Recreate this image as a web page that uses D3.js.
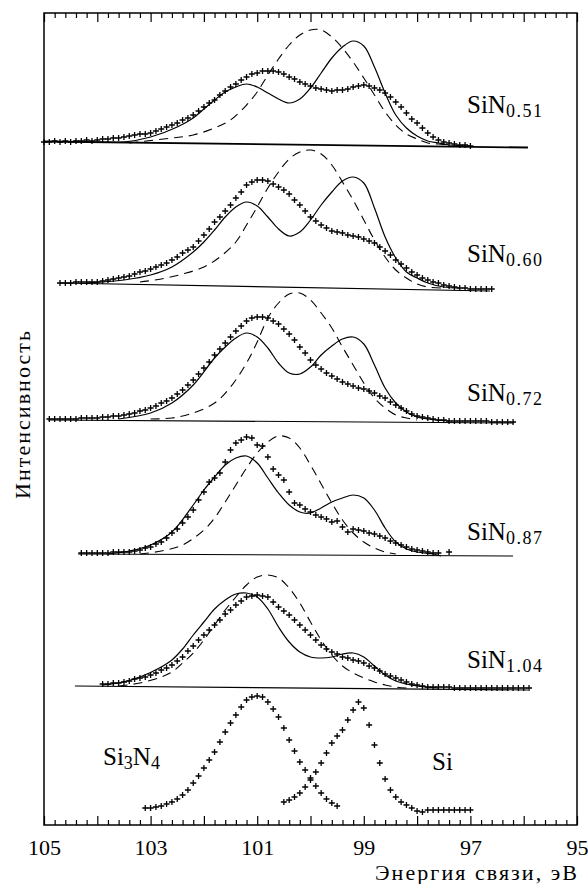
<!DOCTYPE html>
<html>
<head>
<meta charset="utf-8">
<script src="https://cdn.jsdelivr.net/npm/d3@7"></script>
<style>
  body { margin: 0; background: #fff; }
  svg { display: block; }
  svg text { font-family: 'Liberation Serif', 'DejaVu Serif', serif; }
</style>
</head>
<body>
<div class="canvas"></div>
<script>
// spectra: intensity values on a 0.1 eV grid, starting at the given energy
const step = 0.1;

const names = ['SiN', 'SiN', 'SiN', 'SiN', 'SiN'];
const subs = ['0.51', '0.60', '0.72', '0.87', '1.04'];
const starts = [105.0, 104.7, 104.9, 104.3, 103.9];

const data051 = [
  683,683,684,683,684,683,684,684,685,684,
  685,686,686,687,687,688,689,690,691,691,
  692,694,696,698,700,702,705,707,710,714,
  718,722,725,730,734,738,741,745,748,751,
  752,754,754,754,753,751,748,746,743,741,
  739,737,736,735,734,735,735,736,738,739,
  740,739,737,735,732,728,723,718,712,706,
  702,697,692,688,685,683,682,681,680,680,
  679];
const data060 = [
  542,542,542,543,543,543,543,543,544,545,
  546,547,548,549,551,553,554,556,558,560,
  562,565,568,572,575,578,584,590,596,603,
  608,614,620,627,633,640,643,645,645,644,
  641,638,635,631,625,620,614,608,604,600,
  597,594,593,592,590,589,588,586,584,582,
  578,574,570,565,561,557,553,550,547,545,
  543,542,540,539,538,537,537,536,536,536,
  536,536];
const data072 = [
  406,406,406,406,406,406,407,407,407,407,
  408,408,409,409,410,411,412,414,415,417,
  419,422,424,427,431,435,440,445,451,457,
  463,470,476,482,488,494,499,504,507,508,
  508,507,504,501,496,491,485,478,472,465,
  460,456,452,449,446,443,441,439,437,436,
  434,432,429,427,423,420,417,414,411,409,
  408,407,406,405,405,404,404,404,404,404,
  404,404,404,403,403,403,403,403];
const data087 = [
  272,272,272,272,272,272,273,273,273,273,
  274,275,277,278,281,283,287,292,296,302,
  308,315,325,333,343,347,352,363,375,382,
  385,388,387,380,379,368,356,350,345,333,
  322,320,316,313,310,308,306,303,304,298,
  293,296,295,294,292,291,289,287,284,282,
  280,278,276,275,274,273,272,272,null,273];
const data104 = [
  141,141,142,142,143,144,146,147,148,150,
  152,155,157,160,164,168,174,179,185,190,
  195,200,205,211,215,220,224,228,229,230,
  229,228,223,218,214,210,205,200,195,190,
  185,180,176,173,171,168,167,165,164,162,
  159,157,154,151,149,147,145,143,141,140,
  139,138,138,138,138,138,137,137,137,137,
  137,137,137,137,137,137,137,137,137,137,
  137];

// reference spectra (bottom)
const startSi3N4 = 103.1;
const dataSi3N4 = [
  17,17,18,19,21,23,26,30,35,42,
  49,57,65,73,83,93,102,110,118,125,
  128,129,128,123,116,108,97,85,74,63,
  55,47,39,32,26,22,19];
const startSi = 100.5;
const dataSi = [
  23,25,28,32,38,45,53,62,72,82,
  89,95,105,115,123,117,100,80,62,46,
  35,28,23,20,17,14,13,15,15,15,
  15,15,15,15,15,15];

// fitted sum of two components (solid) and single component (dashed), [eV, intensity]
const fit051 = [[104.0,683],[103.5,683],[103.0,688],[102.5,698],[102.2,707],[102.0,716],[101.8,725],[101.6,733],[101.4,738],[101.2,741],[101.0,738],[100.8,732],[100.6,726],[100.4,722],[100.2,726],[100.0,737],[99.8,752],[99.6,767],[99.4,778],[99.2,784],[99.0,779],[98.8,758],[98.6,732],[98.4,710],[98.2,697],[98.0,689],[97.8,684],[97.6,682],[97.4,680],[97.0,679]];
const one051 = [[103.4,682],[102.6,687],[102.2,690],[101.8,697],[101.5,705],[101.2,720],[101.0,733],[100.8,750],[100.6,766],[100.4,780],[100.2,790],[100.0,795],[99.8,795],[99.6,788],[99.4,777],[99.2,763],[99.0,747],[98.8,730],[98.6,713],[98.4,700],[98.2,691],[98.0,686],[97.8,682],[97.6,681],[97.4,680]];
const fit060 = [[104.2,542],[103.5,545],[103.0,550],[102.6,558],[102.2,573],[102.0,583],[101.8,595],[101.6,608],[101.4,618],[101.2,623],[101.0,619],[100.8,608],[100.6,596],[100.4,589],[100.2,593],[100.0,605],[99.8,620],[99.6,633],[99.4,644],[99.2,648],[99.0,642],[98.8,617],[98.6,588],[98.4,567],[98.2,553],[98.0,547],[97.8,542],[97.5,538],[97.2,537]];
const one060 = [[103.2,543],[102.8,546],[102.4,551],[102.0,558],[101.7,568],[101.4,583],[101.2,600],[101.0,618],[100.8,637],[100.6,653],[100.4,666],[100.2,673],[100.0,675],[99.8,671],[99.6,660],[99.4,643],[99.2,625],[99.0,605],[98.8,585],[98.6,568],[98.4,555],[98.2,547],[98.0,541],[97.8,538],[97.5,537]];
const fit072 = [[103.6,406],[103.0,412],[102.6,422],[102.2,440],[101.8,467],[101.6,478],[101.4,487],[101.2,492],[101.0,488],[100.8,477],[100.6,462],[100.4,452],[100.2,451],[100.0,458],[99.8,470],[99.6,479],[99.4,486],[99.2,488],[99.0,481],[98.8,460],[98.6,437],[98.4,422],[98.2,413],[98.0,408],[97.8,406],[97.4,404]];
const one072 = [[103.0,406],[102.6,407],[102.2,412],[101.8,422],[101.5,438],[101.2,462],[101.0,483],[100.8,507],[100.6,522],[100.4,531],[100.2,532],[100.0,525],[99.8,512],[99.6,497],[99.4,478],[99.2,460],[99.0,442],[98.8,427],[98.6,417],[98.4,410],[98.2,407],[98.0,405]];
const fit087 = [[103.8,271],[103.4,274],[103.0,280],[102.6,293],[102.2,320],[102.0,335],[101.8,348],[101.6,360],[101.4,367],[101.2,369],[101.0,362],[100.8,347],[100.6,332],[100.4,320],[100.2,313],[100.0,312],[99.8,317],[99.6,323],[99.4,327],[99.2,330],[99.0,327],[98.8,315],[98.6,297],[98.4,283],[98.2,276],[98.0,273],[97.7,271],[97.55,269]];
const one087 = [[103.2,271],[102.8,274],[102.4,280],[102.0,295],[101.8,307],[101.6,323],[101.4,340],[101.2,357],[101.0,372],[100.8,383],[100.6,389],[100.4,387],[100.2,377],[100.0,360],[99.8,341],[99.6,322],[99.4,305],[99.2,292],[99.0,283],[98.8,277],[98.6,273],[98.4,271]];
const fit104 = [[103.9,140],[103.6,142],[103.2,148],[102.8,158],[102.6,165],[102.4,176],[102.2,190],[102.0,203],[101.8,216],[101.6,225],[101.4,231],[101.2,232],[101.0,228],[100.8,216],[100.6,198],[100.4,183],[100.2,173],[100.0,168],[99.8,167],[99.6,168],[99.4,171],[99.2,172],[99.0,168],[98.8,159],[98.6,150],[98.4,144],[98.2,141],[98.0,139],[97.6,137]];
const one104 = [[103.6,139],[103.2,142],[102.8,148],[102.6,153],[102.4,162],[102.2,172],[102.0,185],[101.8,200],[101.6,215],[101.4,228],[101.2,240],[101.0,248],[100.8,250],[100.6,247],[100.4,237],[100.2,222],[100.0,203],[99.8,185],[99.6,170],[99.4,159],[99.2,152],[99.0,147],[98.8,143],[98.6,140],[98.4,138],[98.2,137]];

// background lines: [eV start, intensity, eV end, intensity]
const bgLines = [
  [105.0, 683.5, 95.92, 677.5],
  [104.7, 542, 96.63, 534],
  [104.92, 405, 96.18, 402],
  [104.36, 271, 96.2, 269],
  [104.42, 139, 95.92, 135]
];

const tickLabels = [105, 103, 101, 99, 97, 95];
const xTitle = 'Энергия связи, эВ';
const yTitle = 'Интенсивность';

const spectra = [data051, data060, data072, data087, data104];
const fits = [fit051, fit060, fit072, fit087, fit104];
const singles = [one051, one060, one072, one087, one104];

// label placement (px)
const labelX = 467;
const labelY = [113, 262, 401, 540, 668];

// svg
const svg = d3.select('.canvas')
    .append('svg')
        .attr('width', 588)
        .attr('height', 884);

// scales
const x = d3.scaleLinear().domain([105, 95]).range([44, 577]);
const y = d3.scaleLinear().domain([0, 812]).range([825, 13]);

// axes, ticks pointing inward on top and bottom
const minorTicks = d3.range(476, 525).filter(d => d % 5 !== 0).map(d => d / 5);
const majorTicks = d3.range(95, 106);

const addAxis = (axis, ty) => {
    const g = svg.append('g').attr('transform', `translate(0, ${ty})`).call(axis);
    g.select('.domain').remove();
    g.attr('font-family', null);
    g.selectAll('line').attr('stroke', '#000').attr('stroke-width', 1.2);
    return g;
};

addAxis(d3.axisBottom(x).tickValues(minorTicks).tickSize(-5).tickFormat(''), 825);
addAxis(d3.axisTop(x).tickValues(minorTicks).tickSize(-5).tickFormat(''), 13);
addAxis(d3.axisTop(x).tickValues(majorTicks).tickSize(-9).tickFormat(''), 13);
const bottomAxis = addAxis(d3.axisBottom(x)
    .tickValues(majorTicks)
    .tickSize(-9)
    .tickPadding(14)
    .tickFormat(d => tickLabels.includes(d) ? d : ''), 825);

bottomAxis.attr('font-size', 22);
bottomAxis.selectAll('text').attr('fill', '#000');

// frame
svg.append('rect')
    .attr('x', 44).attr('y', 13)
    .attr('width', 533).attr('height', 812)
    .attr('fill', 'none')
    .attr('stroke', '#000')
    .attr('stroke-width', 1.5);

// helpers
const toPoints = (start, values) => values
    .map((v, i) => [Math.round((start - i * step) * 100) / 100, v])
    .filter(d => d[1] !== null);

const cross = 'M-3,0H3M0,-3V3';

const drawCrosses = pts => {
    svg.append('g')
        .selectAll('path')
        .data(pts)
        .enter()
        .append('path')
            .attr('d', cross)
            .attr('transform', d => `translate(${x(d[0])}, ${y(d[1])})`)
            .attr('stroke', '#000')
            .attr('stroke-width', 1.3)
            .attr('fill', 'none');
};

const line = d3.line()
    .x(d => x(d[0]))
    .y(d => y(d[1]))
    .curve(d3.curveCatmullRom);

// panels
spectra.forEach((values, i) => {
    const b = bgLines[i];
    svg.append('line')
        .attr('x1', x(b[0])).attr('y1', y(b[1]))
        .attr('x2', x(b[2])).attr('y2', y(b[3]))
        .attr('stroke', '#000')
        .attr('stroke-width', i === 0 ? 1.8 : 1.1);

    svg.append('path')
        .attr('d', line(singles[i]))
        .attr('fill', 'none')
        .attr('stroke', '#000')
        .attr('stroke-width', 1.1)
        .attr('stroke-dasharray', '9,6');

    svg.append('path')
        .attr('d', line(fits[i]))
        .attr('fill', 'none')
        .attr('stroke', '#000')
        .attr('stroke-width', 1.2);

    drawCrosses(toPoints(starts[i], values));

    const t = svg.append('text')
        .attr('x', labelX)
        .attr('y', labelY[i])
        .attr('font-size', 25);
    t.append('tspan').text(names[i]);
    t.append('tspan')
        .attr('font-size', 18)
        .attr('dy', 4)
        .attr('letter-spacing', 1.5)
        .text(subs[i]);
});

drawCrosses(toPoints(startSi3N4, dataSi3N4));
drawCrosses(toPoints(startSi, dataSi));

// reference labels
const ts = svg.append('text')
    .attr('x', 103).attr('y', 765)
    .attr('font-size', 25);
ts.append('tspan').text('Si');
ts.append('tspan').attr('font-size', 18).attr('dy', 4).text('3');
ts.append('tspan').attr('dy', -4).text('N');
ts.append('tspan').attr('font-size', 18).attr('dy', 4).text('4');

svg.append('text')
    .attr('x', 432).attr('y', 770)
    .attr('font-size', 25)
    .text('Si');

// axis titles
svg.append('text')
    .attr('x', 577).attr('y', 880)
    .attr('text-anchor', 'end')
    .attr('font-size', 22)
    .attr('textLength', 202)
    .text(xTitle);

svg.append('text')
    .attr('transform', 'translate(30, 415) rotate(-90)')
    .attr('text-anchor', 'middle')
    .attr('font-size', 22)
    .attr('textLength', 168)
    .text(yTitle);
</script>
</body>
</html>
